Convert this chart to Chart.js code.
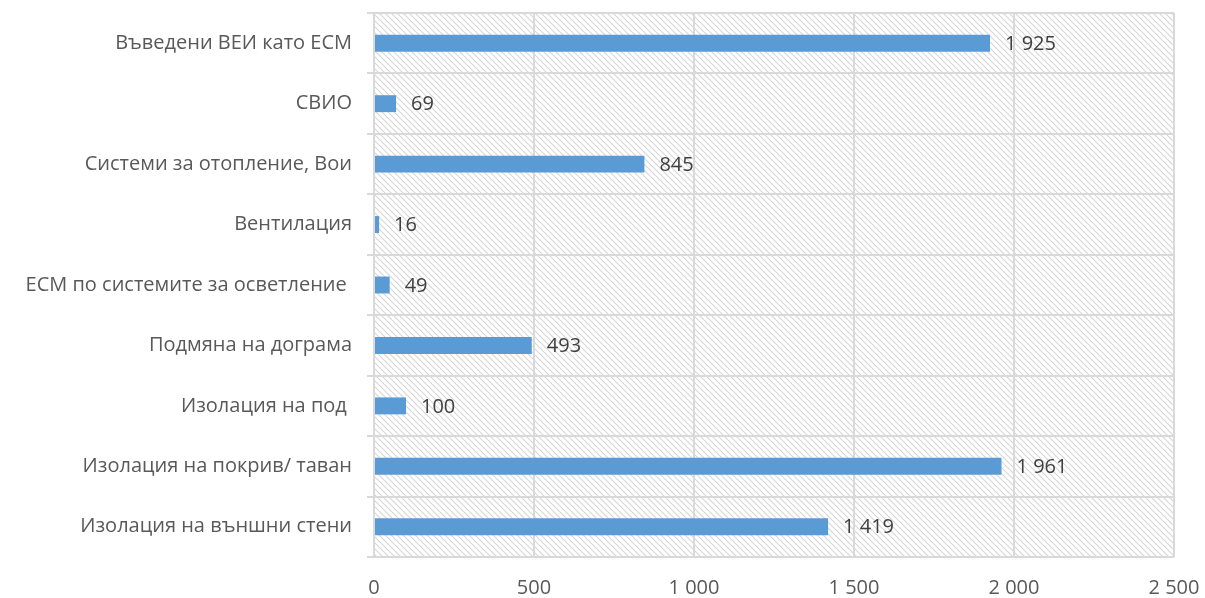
<!DOCTYPE html>
<html><head><meta charset="utf-8">
<script src="https://cdn.jsdelivr.net/npm/chart.js@4"></script>
<style>html,body{margin:0;padding:0;background:#fff}#wrap{width:1205px;height:598px;position:relative}</style>
</head><body><div id="wrap"><canvas id="c" width="1205" height="598"></canvas></div>
<script>
const categories = [
  "Въведени ВЕИ като ЕСМ",
  "СВИО",
  "Системи за отопление, Вои",
  "Вентилация",
  "ЕСМ по системите за осветление ",
  "Подмяна на дограма",
  "Изолация на под ",
  "Изолация на покрив/ таван",
  "Изолация на външни стени"
];
const values = [1925, 69, 845, 16, 49, 493, 100, 1961, 1419];
const xTicks = [0, 500, 1000, 1500, 2000, 2500];

function fmt(v){ return String(v).replace(/\B(?=(\d{3})+(?!\d))/g, " "); }

function makePattern(){
  const p = document.createElement('canvas');
  p.width = 6; p.height = 6;
  const g = p.getContext('2d');
  g.fillStyle = '#ffffff'; g.fillRect(0,0,6,6);
  g.strokeStyle = '#d6d6d6'; g.lineWidth = 1.1;
  g.beginPath();
  g.moveTo(-1,-1); g.lineTo(7,7);
  g.moveTo(-4,2); g.lineTo(4,10);
  g.moveTo(2,-4); g.lineTo(10,4);
  g.stroke();
  return document.getElementById('c').getContext('2d').createPattern(p,'repeat');
}

const hatch = {
  id:'hatch',
  beforeDraw(chart){
    const {ctx, chartArea:a} = chart;
    ctx.save();
    ctx.fillStyle = makePattern();
    ctx.fillRect(a.left, a.top, a.right-a.left, a.bottom-a.top);
    ctx.restore();
  }
};
const valueLabels = {
  id:'valueLabels',
  afterDatasetsDraw(chart){
    const ctx = chart.ctx;
    const meta = chart.getDatasetMeta(0);
    ctx.save();
    ctx.font = '20px "Open Sans"';
    ctx.fillStyle = '#404040';
    ctx.textBaseline = 'middle';
    ctx.textAlign = 'left';
    meta.data.forEach((el,i)=>{
      ctx.fillText(fmt(values[i]), el.x + 15, el.y + 1);
    });
    ctx.restore();
  }
};

new Chart(document.getElementById('c'), {
  type:'bar',
  data:{ labels: categories, datasets:[{ data: values, backgroundColor:'#5B9BD5', barPercentage:0.56, categoryPercentage:0.5 }]},
  options:{
    indexAxis:'y', responsive:false, animation:false,
    layout:{ padding:{ top:13, right:31, bottom:0, left:0 } },
    plugins:{ legend:{display:false}, tooltip:{enabled:false} },
    scales:{
      x:{ min:0, max:2500,
        afterBuildTicks(s){ s.ticks = xTicks.map(v=>({value:v})); },
        afterFit(s){ s.height = 41; s.paddingLeft = 0; s.paddingRight = 0; s.paddingTop = 0; s.paddingBottom = 0; },
        grid:{ color:'#d9d9d9', lineWidth:2, drawTicks:false },
        border:{ display:false },
        ticks:{ padding:19, color:'#595959', font:{family:'Open Sans', size:20}, callback:(v)=>fmt(v), maxRotation:0 }
      },
      y:{
        afterFit(s){ s.width = 374; s.paddingTop = 0; s.paddingBottom = 0; s.paddingLeft = 0; s.paddingRight = 0; },
        grid:{ color:'#d9d9d9', lineWidth:2, offset:true, tickLength:7 },
        border:{ color:'#d9d9d9', width:2 },
        ticks:{ padding:15, color:'#595959', font:{family:'Open Sans', size:20} }
      }
    }
  },
  plugins:[hatch, valueLabels]
});
</script></body></html>
